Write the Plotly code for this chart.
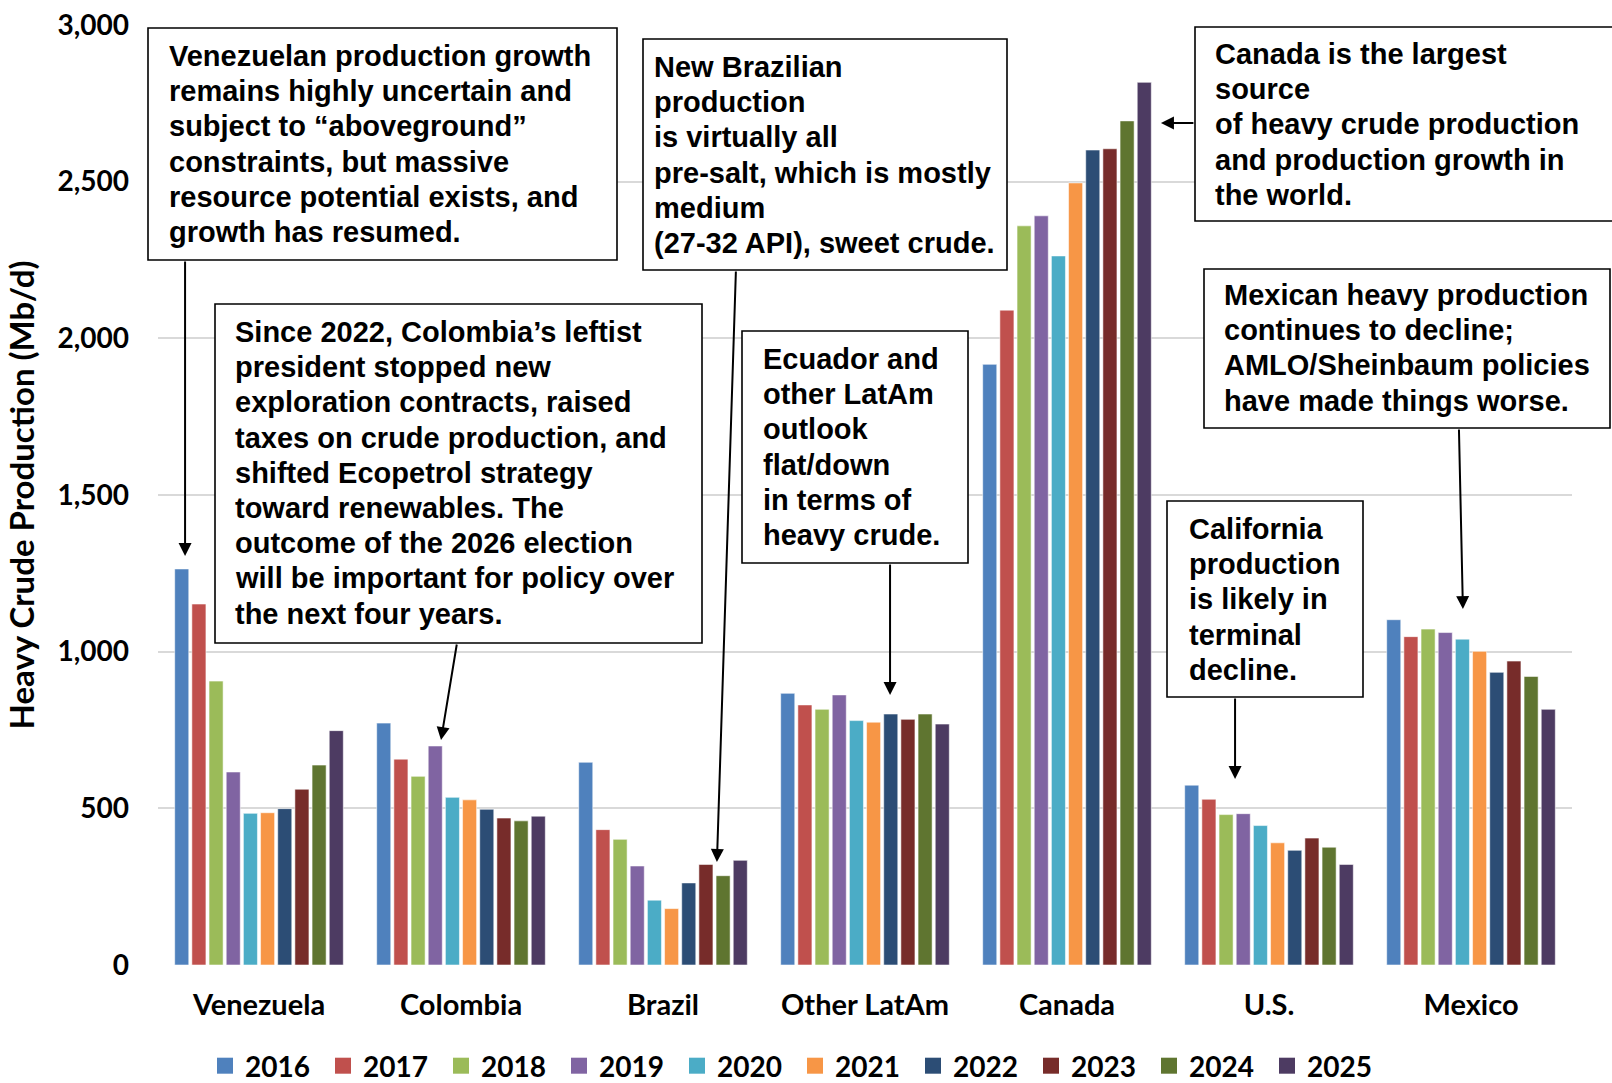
import plotly.graph_objects as go

# ---- data: heavy crude production, thousand barrels per day ----
countries = ["Venezuela", "Colombia", "Brazil", "Other LatAm", "Canada", "U.S.", "Mexico"]
years = ["2016", "2017", "2018", "2019", "2020", "2021", "2022", "2023", "2024", "2025"]

prod_2016 = [1264, 772, 647, 867, 1917, 574, 1102]
prod_2017 = [1152, 657, 432, 830, 2090, 529, 1048]
prod_2018 = [906, 602, 401, 816, 2359, 480, 1072]
prod_2019 = [616, 699, 316, 862, 2391, 483, 1061]
prod_2020 = [484, 535, 207, 780, 2263, 445, 1040]
prod_2021 = [486, 527, 180, 775, 2496, 390, 1001]
prod_2022 = [499, 497, 262, 801, 2601, 366, 934]
prod_2023 = [561, 469, 321, 784, 2605, 405, 970]
prod_2024 = [638, 460, 285, 801, 2694, 376, 921]
prod_2025 = [748, 475, 334, 769, 2817, 321, 816]

series = [prod_2016, prod_2017, prod_2018, prod_2019, prod_2020,
          prod_2021, prod_2022, prod_2023, prod_2024, prod_2025]

colors = ["#4F81BD", "#C0504D", "#9BBB59", "#8064A2", "#4BACC6",
          "#F79646", "#2C4D75", "#772C2A", "#5F7530", "#4D3B62"]

# ---- callout texts ----
notes = [
    # box: left, top, right, bottom (px); tx: text left; ty: first line centre
    dict(box=(148, 28, 617, 260), tx=168, ty=56,
         lines=["Venezuelan production growth",
                "remains highly uncertain and",
                "subject to “aboveground”",
                "constraints, but massive",
                "resource potential exists, and",
                "growth has resumed."]),
    dict(box=(643, 39, 1007, 270), tx=653, ty=67,
         lines=["New Brazilian",
                "production",
                "is virtually all",
                "pre-salt, which is mostly",
                "medium",
                "(27-32 API), sweet crude."]),
    dict(box=(1195, 27, 1640, 221), tx=1214, ty=54,
         lines=["Canada is the largest",
                "source",
                "of heavy crude production",
                "and production growth in",
                "the world."]),
    dict(box=(215, 304, 702, 643), tx=234, ty=332,
         lines=["Since 2022, Colombia’s leftist",
                "president stopped new",
                "exploration contracts, raised",
                "taxes on crude production, and",
                "shifted Ecopetrol strategy",
                "toward renewables. The",
                "outcome of the 2026 election",
                "will be important for policy over",
                "the next four years."]),
    dict(box=(742, 331, 968, 563), tx=762, ty=359,
         lines=["Ecuador and",
                "other LatAm",
                "outlook",
                "flat/down",
                "in terms of",
                "heavy crude."]),
    dict(box=(1204, 269, 1610, 428), tx=1223, ty=295,
         lines=["Mexican heavy production",
                "continues to decline;",
                "AMLO/Sheinbaum policies",
                "have made things worse."]),
    dict(box=(1167, 501, 1363, 697), tx=1188, ty=529,
         lines=["California",
                "production",
                "is likely in",
                "terminal",
                "decline."]),
]

# arrows: tip in data coordinates (category index, value), tail offset in px
arrows = [
    dict(x=-0.366, y=1305, ax=0, ay=-296),
    dict(x=2.267, y=329, ax=19, ay=-592),
    dict(x=4.465, y=2687, ax=34, ay=0),
    dict(x=0.901, y=718, ax=16, ay=-97),
    dict(x=3.124, y=862, ax=0, ay=-132),
    dict(x=5.960, y=1136, ax=-4, ay=-181),
    dict(x=4.832, y=594, ax=0, ay=-82),
]

# ---- geometry of the canvas ----
W, H = 1612, 1083
PLOT_L, PLOT_R, PLOT_T, PLOT_B = 158, 1572, 25, 965
LINE_PITCH = 35.2


def fx(px):
    return (px - PLOT_L) / (PLOT_R - PLOT_L)


def fy(py):
    return (PLOT_B - py) / (PLOT_B - PLOT_T)


AXIS_FAMILY = "Lato, 'Open Sans', sans-serif"
axis_font = dict(family=AXIS_FAMILY, size=28, color="black", weight=700)
cat_font = dict(family=AXIS_FAMILY, size=29, color="black", weight=700)
legend_font = dict(family=AXIS_FAMILY, size=28, color="black", weight=700)
title_font = dict(family=AXIS_FAMILY, size=33, color="black", weight=700)
note_font = dict(family="'Liberation Sans', Arial, sans-serif", size=29, color="black", weight=700)

fig = go.Figure()
for yr, vals, col in zip(years, series, colors):
    fig.add_trace(go.Bar(
        name=yr, x=countries, y=vals, legendgroup=yr, showlegend=False,
        marker=dict(color=col, line=dict(color="rgba(255,255,255,0.55)", width=1)),
    ))
# legend entries with larger square keys
for yr, col in zip(years, colors):
    fig.add_trace(go.Scatter(
        name=yr, x=[None], y=[None], mode="markers", legendgroup=yr,
        marker=dict(symbol="square", size=16, color=col), hoverinfo="skip",
    ))

shapes = []
annotations = []
for n in notes:
    x0, y0, x1, y1 = n["box"]
    shapes.append(dict(type="rect", xref="paper", yref="paper",
                       x0=fx(x0), x1=fx(x1), y0=fy(y0), y1=fy(y1),
                       line=dict(color="black", width=1.6), fillcolor="white",
                       layer="above"))
    for i, line in enumerate(n["lines"]):
        annotations.append(dict(
            xref="paper", yref="paper", x=fx(n["tx"]), y=fy(n["ty"] + i * LINE_PITCH),
            xanchor="left", yanchor="middle", text=line, showarrow=False,
            font=note_font, align="left", borderpad=0,
        ))

for a in arrows:
    annotations.append(dict(
        xref="x", yref="y", x=a["x"], y=a["y"], axref="pixel", ayref="pixel",
        ax=a["ax"], ay=a["ay"], text="", showarrow=True,
        arrowhead=2, arrowsize=1.3, arrowwidth=2, arrowcolor="black", standoff=0,
    ))

fig.update_layout(
    width=W, height=H,
    margin=dict(l=PLOT_L, r=W - PLOT_R, t=PLOT_T, b=H - PLOT_B, autoexpand=False),
    paper_bgcolor="white", plot_bgcolor="white",
    barmode="group", bargap=0.15, bargroupgap=0.18,
    showlegend=True,
    legend=dict(orientation="h", x=fx(205), xanchor="left", y=fy(1066), yanchor="middle",
                font=legend_font, entrywidth=73, entrywidthmode="pixels",
                traceorder="normal", bgcolor="rgba(0,0,0,0)", itemclick=False),
    shapes=shapes,
    annotations=annotations,
)

fig.update_xaxes(type="category", tickfont=cat_font, showgrid=False, showline=False,
                 zeroline=False, ticks="", ticklabelstandoff=20)
fig.update_yaxes(range=[0, 3000], dtick=500, tickformat=",", tickfont=axis_font,
                 showgrid=True, gridcolor="#D9D9D9", gridwidth=2, zeroline=False,
                 showline=False, ticks="", ticklabelstandoff=28,
                 title=dict(text="<b>Heavy Crude Production (Mb/d)</b>", font=title_font,
                            standoff=12))

fig.write_html("out.html")
